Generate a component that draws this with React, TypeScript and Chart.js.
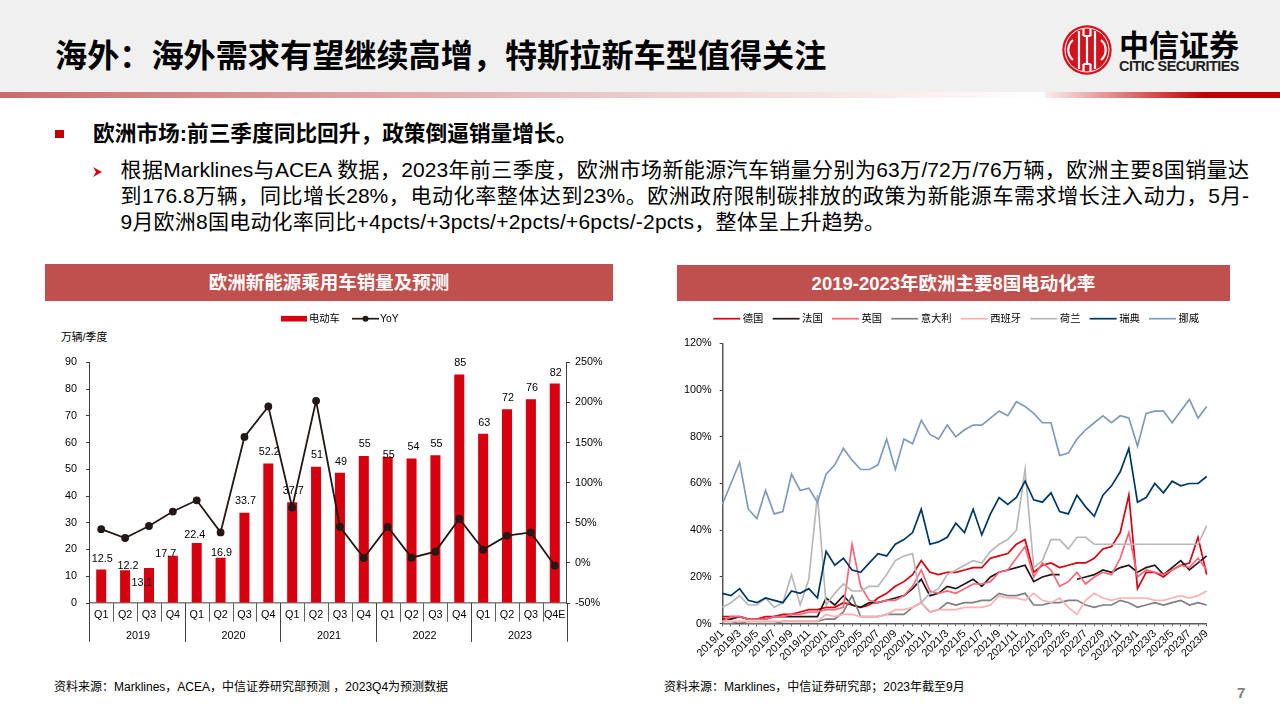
import React, { useEffect, useRef } from "react";
import { Chart, registerables } from "chart.js";

Chart.register(...registerables);

const SANS = '"Liberation Sans","Noto Sans CJK SC",sans-serif';

const quarters = ["Q1","Q2","Q3","Q4","Q1","Q2","Q3","Q4","Q1","Q2","Q3","Q4","Q1","Q2","Q3","Q4","Q1","Q2","Q3","Q4E"];
const years = ["2019","2020","2021","2022","2023"];
const evSales = [12.5,12.2,13.1,17.7,22.4,16.9,33.7,52.2,37.7,50.9,48.7,55,54.6,54,55.2,85.4,63.3,72.4,76.2,82.1];
const evLabels = ["12.5","12.2","13.1","17.7","22.4","16.9","33.7","52.2","37.7","51","49","55","55","54","55","85","63","72","76","82"];
const yoy = [42,31,46,64,78,38,157,195,69,202,45,6,45,6.5,14,55,16.5,34,38,-3.5];

const months = [
  "2019/1","2019/2","2019/3","2019/4","2019/5","2019/6","2019/7","2019/8","2019/9","2019/10","2019/11","2019/12",
  "2020/1","2020/2","2020/3","2020/4","2020/5","2020/6","2020/7","2020/8","2020/9","2020/10","2020/11","2020/12",
  "2021/1","2021/2","2021/3","2021/4","2021/5","2021/6","2021/7","2021/8","2021/9","2021/10","2021/11","2021/12",
  "2022/1","2022/2","2022/3","2022/4","2022/5","2022/6","2022/7","2022/8","2022/9","2022/10","2022/11","2022/12",
  "2023/1","2023/2","2023/3","2023/4","2023/5","2023/6","2023/7","2023/8","2023/9",
];
const germany = [3,3,3,2,2,3,3,4,4,5,6,6,7,7,9,8,7,8,11,13,16,18,21,27,22,21,22,22,23,24,24,28,29,30,34,36,22,25,26,24,25,26,26,28,32,33,39,55,15,22,22,20,23,25,26,37,21];
const france = [2,2,3,2,2,2,3,3,3,3,3,3,11,8,12,8,7,9,9,10,11,12,15,19,12,13,16,15,17,19,16,20,22,23,24,25,18,20,21,21,null,19,20,21,23,22,24,25,22,24,25,21,24,27,23,26,29];
const uk = [1,3,3,2,2,2,3,3,4,4,5,5,6,6,7,34,16,10,9,10,10,12,16,23,14,13,14,13,15,17,17,18,22,23,28,33,20,26,23,16,18,22,17,20,22,21,28,39,20,23,22,21,23,25,24,28,23];
const italy = [0,0,1,0,0,0,0,1,1,1,1,1,2,2,5,12,3,3,3,4,4,4,7,9,5,6,9,8,9,9,10,10,13,12,12,13,8,8,9,9,10,10,8,7,8,8,10,9,7,8,9,8,9,10,8,9,8];
const spain = [1,1,1,1,1,1,1,1,1,1,1,1,4,3,4,4,3,3,3,4,6,6,7,9,5,6,6,6,7,7,7,8,12,11,11,10,13,10,9,11,7,4,10,13,11,10,11,11,11,11,10,10,11,12,11,12,14];
const netherlands = [7,9,12,8,8,11,7,9,21,8,19,55,8,13,17,14,14,16,16,21,27,29,30,9,13,15,21,23,25,27,26,31,34,36,40,66,24,27,36,36,32,37,37,34,34,34,34,34,34,34,34,34,34,34,34,34,42];
const sweden = [13,12,15,10,9,11,10,9,14,13,15,11,31,25,28,23,22,26,30,29,34,36,39,49,34,35,37,43,39,49,38,47,54,51,54,61,53,52,56,48,47,55,50,46,55,59,65,75,52,54,60,56,61,59,60,60,63];
const norway = [51,60,69,49,45,57,47,48,64,57,58,52,64,68,75,70,66,66,68,79,66,79,77,87,81,79,85,80,83,85,85,88,91,89,95,93,90,86,86,72,73,79,83,86,89,86,89,88,76,90,91,91,86,91,96,88,93];

const countryNames = ["德国","法国","英国","意大利","西班牙","荷兰","瑞典","挪威"];
const countryValues = [germany,france,uk,italy,spain,netherlands,sweden,norway];
const countryColors = ["#d7000f","#231815","#ff6478","#7f7f7f","#ffb0b0","#b8b8b8","#003865","#7f9bb9"];

// label nudges (dx, dy from the bar top to the label centre)
const labelNudge = [[1,-10.5],[3,-4.5],[-7,15.5],[-7,-1.5],[-2,-8.5],[1,-4.5],[1,-11.5],[1,-11.5],[1,-11.5],[1,-11.5],[1,-10.5],[1,-11.5],[1,-1.5],[2,-11.5],[1,-11.5],[1,-11.5],[1,-10.5],[1,-11.5],[1,-11.5],[1,-10.5]];

const leftPlugin = {
  id: "leftExtras",
  afterDatasetsDraw(chart: any) {
    const { ctx, scales, chartArea } = chart;
    const x = scales.x;
    const meta = chart.getDatasetMeta(0);
    ctx.save();
    ctx.font = "10.8px " + SANS;
    ctx.fillStyle = "#000";
    ctx.textAlign = "center";
    ctx.textBaseline = "middle";
    meta.data.forEach((bar: any, i: number) => {
      ctx.fillText(evLabels[i], bar.x + labelNudge[i][0], bar.y + labelNudge[i][1]);
    });
    // two-tier category axis
    const bottom = chartArea.bottom;
    const step = x.getPixelForValue(1) - x.getPixelForValue(0);
    ctx.lineWidth = 1;
    for (let i = 1; i < quarters.length; i++) {
      if (i % 4 === 0) continue;
      const px = Math.round(x.getPixelForValue(i) - step / 2) + 0.5;
      ctx.strokeStyle = "#606060";
      ctx.beginPath();
      ctx.moveTo(px, bottom);
      ctx.lineTo(px, bottom + 18.7);
      ctx.stroke();
    }
    years.forEach((year, k) => {
      const l = x.getPixelForValue(k * 4) - step / 2;
      const r = x.getPixelForValue(k * 4 + 3) + step / 2;
      ctx.fillStyle = "#000";
      ctx.font = "10.8px " + SANS;
      ctx.fillText(year, (l + r) / 2 + 1, bottom + 33);
      ctx.strokeStyle = "#404040";
      [l, r].forEach((p) => {
        const px = Math.round(p) + 0.5;
        ctx.beginPath();
        ctx.moveTo(px, bottom);
        ctx.lineTo(px, bottom + 38.7);
        ctx.stroke();
      });
    });
    // legend
    const ly = 13.7;
    ctx.textAlign = "left";
    ctx.font = "10.3px " + SANS;
    ctx.fillStyle = chart.data.datasets[0].backgroundColor;
    ctx.fillRect(241, ly - 2.8, 26, 5.6);
    ctx.fillStyle = "#000";
    ctx.fillText(chart.data.datasets[0].label, 269, ly);
    ctx.strokeStyle = chart.data.datasets[1].borderColor;
    ctx.lineWidth = 1.7;
    ctx.beginPath();
    ctx.moveTo(312, ly);
    ctx.lineTo(339, ly);
    ctx.stroke();
    ctx.fillStyle = chart.data.datasets[1].borderColor;
    ctx.beginPath();
    ctx.arc(325.5, ly, 3, 0, Math.PI * 2);
    ctx.fill();
    ctx.fillStyle = "#000";
    ctx.fillText(chart.data.datasets[1].label, 340, ly);
    ctx.restore();
  },
};

const rightPlugin = {
  id: "rightLegend",
  afterDraw(chart: any) {
    const { ctx } = chart;
    ctx.save();
    ctx.font = "10.3px " + SANS;
    ctx.textBaseline = "middle";
    ctx.lineWidth = 1.7;
    const ly = 13.7;
    let cursor = 33.3;
    chart.data.datasets.forEach((ds: any) => {
      ctx.strokeStyle = ds.borderColor;
      ctx.beginPath();
      ctx.moveTo(cursor, ly);
      ctx.lineTo(cursor + 27, ly);
      ctx.stroke();
      ctx.fillStyle = "#000";
      ctx.fillText(ds.label, cursor + 29.5, ly);
      cursor += 29.5 + ctx.measureText(ds.label).width + 9.2;
    });
    ctx.restore();
  },
};

function useChart(build: (c: HTMLCanvasElement) => Chart) {
  const ref = useRef<HTMLCanvasElement | null>(null);
  useEffect(() => {
    const chart = build(ref.current as HTMLCanvasElement);
    return () => chart.destroy();
  }, []);
  return ref;
}

function buildLeft(canvas: HTMLCanvasElement) {
  const tickFont = { family: SANS, size: 10.8 };
  return new Chart(canvas, {
    type: "bar",
    data: {
      labels: quarters,
      datasets: [
        { type: "bar", label: "电动车", data: evSales, yAxisID: "y", backgroundColor: "#d7000f", barPercentage: 0.42, categoryPercentage: 1, order: 2 },
        { type: "line", label: "YoY", data: yoy, yAxisID: "y1", borderColor: "#231815", backgroundColor: "#231815", borderWidth: 1.8, pointRadius: 3.9, pointBackgroundColor: "#231815", pointBorderWidth: 0, tension: 0, order: 1 },
      ],
    } as any,
    options: {
      animation: false,
      responsive: false,
      layout: { padding: { top: 57.3, left: 0, right: 0, bottom: 0 } },
      plugins: { legend: { display: false }, tooltip: { enabled: false } },
      scales: {
        x: {
          afterFit: (s: any) => { s.height = 47; },
          border: { color: "#7f7f7f", width: 1.6 },
          grid: { display: false, drawTicks: false },
          ticks: { color: "#000", font: tickFont, padding: 6, maxRotation: 0, autoSkip: false },
        },
        y: {
          position: "left", min: 0, max: 90,
          afterFit: (s: any) => { s.width = 49.3; },
          border: { color: "#404040", width: 1 },
          grid: { drawOnChartArea: false, tickLength: 3.3, tickColor: "#404040" },
          ticks: { color: "#000", font: tickFont, stepSize: 10, padding: 9, autoSkip: false },
        },
        y1: {
          position: "right", min: -50, max: 250,
          afterFit: (s: any) => { s.width = 53.3; },
          border: { color: "#404040", width: 1 },
          grid: { drawOnChartArea: false, tickLength: 3.3, tickColor: "#404040" },
          ticks: { color: "#000", font: tickFont, stepSize: 50, padding: 5, autoSkip: false, callback: (v: any) => v + "%" },
        },
      },
    } as any,
    plugins: [leftPlugin],
  });
}

function buildRight(canvas: HTMLCanvasElement) {
  const tickFont = { family: SANS, size: 10.8 };
  return new Chart(canvas, {
    type: "line",
    data: {
      labels: months,
      datasets: countryNames.map((name, i) => ({
        label: name,
        data: countryValues[i],
        borderColor: countryColors[i],
        backgroundColor: countryColors[i],
        borderWidth: 1.7,
        pointRadius: 0,
        tension: 0,
        spanGaps: false,
        order: countryNames.length - i,
      })),
    },
    options: {
      animation: false,
      responsive: false,
      layout: { padding: { top: 38.3, left: 0, right: 18.3, bottom: 0 } },
      plugins: { legend: { display: false }, tooltip: { enabled: false } },
      scales: {
        x: {
          afterFit: (s: any) => { s.height = 36.3; },
          offset: false,
          border: { color: "#595959", width: 1.5 },
          grid: { drawOnChartArea: false, tickLength: 2.6, tickColor: "#595959" },
          ticks: {
            color: "#000", font: tickFont, padding: 1, minRotation: 45, maxRotation: 45, autoSkip: false,
            callback(this: any, v: any, i: number) { return i % 2 === 0 ? this.getLabelForValue(v) : ""; },
          },
        },
        y: {
          min: 0, max: 120,
          afterFit: (s: any) => { s.width = 42.3; },
          border: { color: "#595959", width: 1.5 },
          grid: { drawOnChartArea: false, tickLength: 2.6, tickColor: "#404040" },
          ticks: { color: "#000", font: tickFont, stepSize: 20, padding: 8, autoSkip: false, callback: (v: any) => v + "%" },
        },
      },
    } as any,
    plugins: [rightPlugin],
  });
}

function T(p: { x: number; cy: number; size: number; bold?: boolean; color?: string; h?: number; w?: number; justify?: boolean; center?: boolean; family?: string; children: any; spacing?: number }) {
  const h = p.h ?? Math.round(p.size * 1.5);
  return (
    <div
      style={{
        position: "absolute",
        left: p.x,
        top: p.cy - h / 2,
        height: h,
        lineHeight: h + "px",
        width: p.w,
        fontSize: p.size,
        fontWeight: p.bold ? 700 : 400,
        color: p.color ?? "#000",
        fontFamily: p.family ?? SANS,
        whiteSpace: p.justify ? "normal" : "nowrap",
        textAlign: p.center ? "center" : p.justify ? "justify" : "left",
        textAlignLast: p.justify ? "justify" : undefined,
        letterSpacing: p.spacing,
      } as any}
    >
      {p.children}
    </div>
  );
}

function Logo() {
  return (
    <svg width="56" height="56" viewBox="0 0 56 56" style={{ position: "absolute", left: 1059, top: 22 }}>
      <circle cx="28" cy="28" r="24.7" fill="#d5121c" />
      <circle cx="28" cy="28" r="22" fill="none" stroke="#fff" strokeWidth="1" />
      <g fill="none" stroke="#fff" strokeWidth="2.2">
        <path d="M14 18 A13 13 0 0 0 14 38" />
        <path d="M42 18 A13 13 0 0 1 42 38" />
        <path d="M20 9 V47 M36 9 V47 M24.5 7 V14 M31.5 7 V14 M24.5 42 V49 M31.5 42 V49" />
        <path d="M24.5 14 H31.5 M24.5 42 H31.5" />
        <path d="M28 14 V42" />
      </g>
    </svg>
  );
}

export default function App() {
  const leftRef = useChart(buildLeft);
  const rightRef = useChart(buildRight);
  const CJK = '"Noto Sans CJK SC",sans-serif';
  return (
    <div style={{ position: "absolute", left: 0, top: 0, width: 1280, height: 720, overflow: "hidden", background: "#fff", fontFamily: SANS }}>
      <div style={{ position: "absolute", left: 0, top: 0, width: 1280, height: 92, background: "#f0f0f0" }} />
      <div style={{ position: "absolute", left: 0, top: 92, width: 1280, height: 6, background: "linear-gradient(90deg,#cb6c6c 0,#edcccc 640px,#ffffff 1044px,#fbeaea 1046px,#e08080 1120px,#c00000 1205px,#c00000 1280px)" }} />
      <T x={55} cy={53} size={32.15} bold family={CJK}>海外：海外需求有望继续高增，特斯拉新车型值得关注</T>
      <Logo />
      <T x={1119} cy={43} size={30} bold family={CJK}>中信证券</T>
      <T x={1119} cy={66} size={14.4} bold spacing={-0.5} color="#222">CITIC SECURITIES</T>

      <div style={{ position: "absolute", left: 55, top: 130, width: 9, height: 8, background: "#c00000" }} />
      <T x={93} cy={133} size={21.7} bold>欧洲市场:前三季度同比回升，政策倒逼销量增长。</T>
      <svg width="12" height="12" viewBox="0 0 12 12" style={{ position: "absolute", left: 92, top: 166 }}>
        <polygon points="1,1 10,6 1,11 4,6" fill="#d7000f" />
      </svg>
      <T x={120.5} cy={170} size={21} w={1128.5} justify>根据Marklines与ACEA 数据，2023年前三季度，欧洲市场新能源汽车销量分别为63万/72万/76万辆，欧洲主要8国销量达</T>
      <T x={120.5} cy={196} size={21} w={1128.5} justify>到176.8万辆，同比增长28%，电动化率整体达到23%。欧洲政府限制碳排放的政策为新能源车需求增长注入动力，5月-</T>
      <T x={120.5} cy={222} size={21} spacing={0.22}>9月欧洲8国电动化率同比+4pcts/+3pcts/+2pcts/+6pcts/-2pcts，整体呈上升趋势。</T>

      <div style={{ position: "absolute", left: 45, top: 264, width: 568, height: 37, background: "#c0504d" }} />
      <T x={45} cy={283} size={18.5} bold color="#fff" w={568} center>欧洲新能源乘用车销量及预测</T>
      <div style={{ position: "absolute", left: 677, top: 265, width: 553, height: 36, background: "#c0504d" }} />
      <T x={677} cy={284} size={18.5} bold color="#fff" w={553} center>2019-2023年欧洲主要8国电动化率</T>

      <T x={61} cy={337} size={10.8}>万辆/季度</T>
      <canvas ref={leftRef} width={580} height={345} style={{ position: "absolute", left: 40, top: 305 }} />
      <canvas ref={rightRef} width={545} height={355} style={{ position: "absolute", left: 680, top: 305 }} />

      <T x={54} cy={687} size={12}>资料来源：Marklines，ACEA，中信证券研究部预测 ，2023Q4为预测数据</T>
      <T x={664} cy={687} size={12}>资料来源：Marklines，中信证券研究部；2023年截至9月</T>
      <T x={1237} cy={692} size={15} bold color="#7f7f7f">7</T>
    </div>
  );
}
